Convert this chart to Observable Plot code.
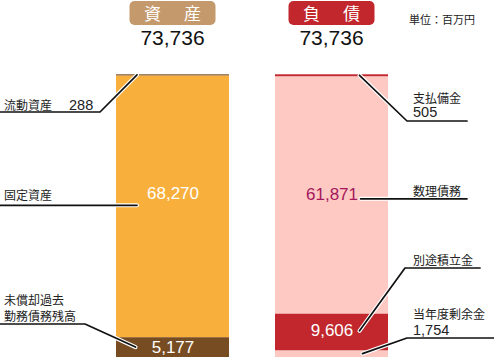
<!DOCTYPE html>
<html><head><meta charset="utf-8">
<script src="https://cdn.jsdelivr.net/npm/d3@7"></script>
<script src="https://cdn.jsdelivr.net/npm/@observablehq/plot@0.6"></script>
<style>body{margin:0;background:#fff}#chart svg{display:block}</style>
</head><body><div id="chart"></div>
<script>
// ---- data ----
const categories = ["資産", "負債"];
const badgeLabels = ["資　産", "負　債"];
const totals = [73736, 73736];
const assetNames = ["未償却過去勤務債務残高", "固定資産", "流動資産"];      // bottom -> top
const assetValues = [5177, 68270, 288];
const liabilityNames = ["当年度剰余金", "別途積立金", "数理債務", "支払備金"]; // bottom -> top
const liabilityValues = [1754, 9606, 61871, 505];
const unitLabel = "単位：百万円";

// ---- styles ----
const colors = {
  "未償却過去勤務債務残高": "#774c23",
  "固定資産": "#f9af3b",
  "流動資産": "#774c23",
  "当年度剰余金": "#fdc8c1",
  "別途積立金": "#c1272d",
  "数理債務": "#ffc9c3",
  "支払備金": "#c1272d"
};
const badgeColors = ["#c49a6c", "#c1272d"];
const FONT = '"Liberation Sans", Arial, "Noto Sans CJK JP", sans-serif';
const fmt = d3.format(",");

const rows = [
  ...assetNames.map((n, i) => ({side: categories[0], name: n, value: assetValues[i]})),
  ...liabilityNames.map((n, i) => ({side: categories[1], name: n, value: liabilityValues[i]}))
];

const insideLabels = [
  {name: "固定資産", fill: "#ffffff", dy: -13},
  {name: "数理債務", fill: "#a3175c", dy: -1},
  {name: "未償却過去勤務債務残高", fill: "#ffffff", dy: 0},
  {name: "別途積立金", fill: "#ffffff", dy: -2}
];

const plot = Plot.plot({
  width: 494, height: 358,
  marginTop: 0, marginBottom: 0, marginLeft: 0, marginRight: 0,
  style: {fontFamily: FONT, background: "#fff", overflow: "visible"},
  x: {domain: categories, range: [115.5, 389], paddingInner: 0.29, paddingOuter: 0, axis: null},
  y: {domain: [0, d3.max(totals)], range: [357, 74.3], axis: null},
  marks: [
    Plot.barY(rows, Plot.stackY({x: "side", y: "value", fill: d => colors[d.name]})),
    ...insideLabels.map(s => Plot.text(rows, Plot.filter(d => d.name === s.name,
      Plot.stackY({x: "side", y: "value", text: d => fmt(d.value), fill: s.fill,
                   fontSize: 17, dy: s.dy}))))
  ]
});
document.getElementById("chart").append(plot);

// ---- annotations placed with the plot's scales ----
const xs = plot.scale("x"), ys = plot.scale("y");
const bw = xs.bandwidth;
const mids = {};
[[assetNames, assetValues], [liabilityNames, liabilityValues]].forEach(([names, vals]) => {
  let acc = 0;
  names.forEach((n, i) => { mids[n] = ys.apply(acc + vals[i] / 2); acc += vals[i]; });
});
const left0 = xs.apply(categories[0]), left1 = xs.apply(categories[1]);

const svg = d3.select(plot);
const g = svg.append("g").attr("font-family", FONT).attr("text-anchor", "start");

// badges + totals
categories.forEach((c, i) => {
  const cx = xs.apply(c) + bw / 2;
  g.append("rect").attr("x", cx - 43).attr("y", 1).attr("width", 86).attr("height", 24)
    .attr("rx", 5).attr("fill", badgeColors[i]);
  g.append("text").attr("x", cx + 1.5).attr("y", 19.5).attr("text-anchor", "middle")
    .attr("fill", "#fff").attr("font-size", 17).attr("letter-spacing", 3).text(badgeLabels[i]);
  g.append("text").attr("x", cx).attr("y", 45).attr("text-anchor", "middle")
    .attr("fill", "#111").attr("font-size", 21).text(fmt(totals[i]));
});
g.append("text").attr("x", 409).attr("y", 24).attr("font-size", 11).attr("fill", "#222").text(unitLabel);

// leader lines
const ax = (side, dx) => (side === 0 ? left0 : left1) + dx;
const leaders = [
  {pts: [[0, 112], [100, 112], [ax(0, 21), mids["流動資産"]]]},
  {pts: [[0, mids["固定資産"] - 1], [ax(0, 21), mids["固定資産"] - 1]]},
  {pts: [[0, 324], [85, 324], [ax(0, 19.5), mids["未償却過去勤務債務残高"]]]},
  {pts: [[ax(1, 84.5), mids["支払備金"]], [407, 121], [467, 121]]},
  {pts: [[ax(1, 85.5), mids["数理債務"] + 4], [467, mids["数理債務"] + 4]]},
  {pts: [[ax(1, 84.5), mids["別途積立金"] - 1], [405, 268], [480, 268]]},
  {pts: [[ax(1, 87.5), mids["当年度剰余金"]], [407, 338], [494, 338]]}
];
const line = d3.line();
leaders.forEach(l => {
  g.append("path").attr("d", line(l.pts)).attr("fill", "none").attr("stroke", "#fff")
    .attr("stroke-width", 4).attr("stroke-linecap", "round").attr("stroke-linejoin", "round");
});
leaders.forEach(l => {
  g.append("path").attr("d", line(l.pts)).attr("fill", "none").attr("stroke", "#111")
    .attr("stroke-width", 1.7).attr("stroke-linecap", "round").attr("stroke-linejoin", "round");
});

// side labels
const lbl = (x, y, t, fs = 12) => g.append("text").attr("x", x).attr("y", y).attr("font-size", fs)
  .attr("text-anchor", "start").attr("fill", "#222").text(t);
lbl(4, 109.5, assetNames[2]);
lbl(69, 110, fmt(assetValues[2]), 14.5);
lbl(4, mids["固定資産"] - 6.5, assetNames[1]);
lbl(4, 304.5, assetNames[0].slice(0, 5));
lbl(4, 321, assetNames[0].slice(5));
lbl(413, 102.5, liabilityNames[3]);
lbl(413, 117, fmt(liabilityValues[3]), 14.5);
lbl(413, mids["数理債務"] + 1.5, liabilityNames[2]);
lbl(413, 265, liabilityNames[1]);
lbl(413, 318.5, liabilityNames[0]);
lbl(413, 334.5, fmt(liabilityValues[0]), 14.5);
</script>
</body></html>
